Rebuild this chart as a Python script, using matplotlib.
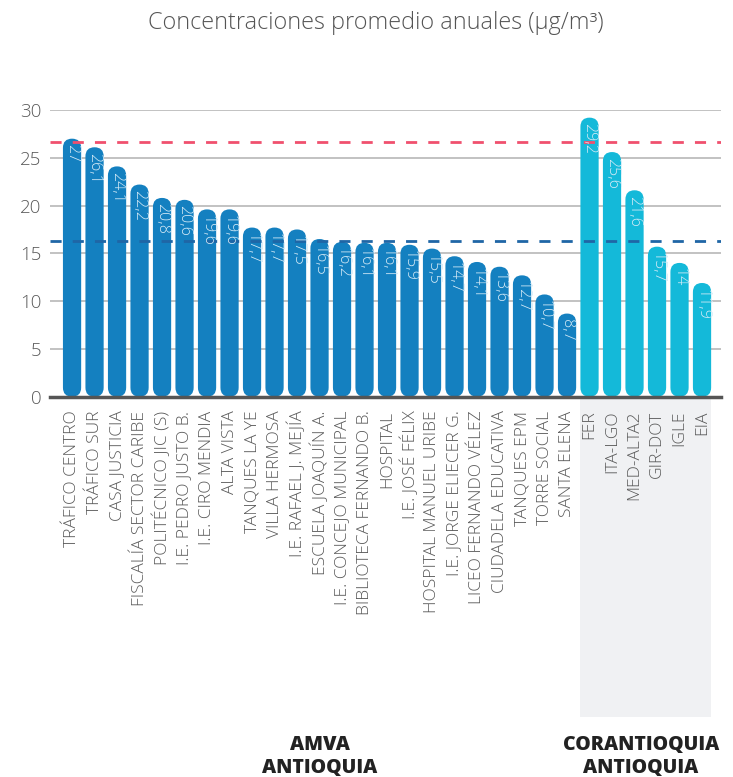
import matplotlib
matplotlib.use("Agg")
import matplotlib.pyplot as plt
from matplotlib.patches import FancyBboxPatch, Rectangle
from matplotlib import transforms
import numpy as np

# Estaciones AMVA
amva_stations = [
    "TRÁFICO CENTRO", "TRÁFICO SUR", "CASA JUSTICIA", "FISCALÍA SECTOR CARIBE",
    "POLITÉCNICO JIC (S)", "I.E. PEDRO JUSTO B.", "I.E. CIRO MENDIA", "ALTA VISTA",
    "TANQUES LA YE", "VILLA HERMOSA", "I.E. RAFAEL J. MEJÍA", "ESCUELA JOAQUÍN A.",
    "I.E. CONCEJO MUNICIPAL", "BIBLIOTECA FERNANDO B.", "HOSPITAL", "I.E. JOSÉ FÉLIX",
    "HOSPITAL MANUEL URIBE", "I.E. JORGE ELIECER G.", "LICEO FERNANDO VÉLEZ",
    "CIUDADELA EDUCATIVA", "TANQUES EPM", "TORRE SOCIAL", "SANTA ELENA",
]
amva_values = [27, 26.1, 24.1, 22.2, 20.8, 20.6, 19.6, 19.6, 17.7, 17.7, 17.5, 16.5,
               16.2, 16.1, 16.1, 15.9, 15.5, 14.7, 14.1, 13.6, 12.7, 10.7, 8.7]

# Estaciones Corantioquia
cor_stations = ["FER", "ITA-LGO", "MED-ALTA2", "GIR-DOT", "IGLE", "EIA"]
cor_values = [29.2, 25.6, 21.6, 15.7, 14, 11.9]

# Líneas de referencia
ref_red = 26.7
ref_blue = 16.3

yticks = [0, 5, 10, 15, 20, 25, 30]

FONT = "Open Sans"
AMVA_COLOR = "#1480c0"
COR_COLOR = "#14b9d9"

stations = amva_stations + cor_stations
values = amva_values + cor_values
colors = [AMVA_COLOR] * len(amva_values) + [COR_COLOR] * len(cor_values)
x = np.arange(len(values))

W, H = 733, 777
fig = plt.figure(figsize=(W / 100, H / 100), dpi=100)
ax = fig.add_axes([50 / W, 1 - 396.7 / H, (720.7 - 50) / W, (396.7 - 110) / H])
ax.set_xlim(-0.98, 28.83)
ax.set_ylim(0, 30)

# relación de aspecto para redondear las barras como círculos
px_x = ax.get_position().width * W / (28.83 + 0.98)
px_y = ax.get_position().height * H / 30
aspect = px_x / px_y

bar_w = 0.81
for xi, v, c in zip(x, values, colors):
    p = FancyBboxPatch((xi - bar_w / 2, 0), bar_w, v,
                       boxstyle=f"round,pad=0,rounding_size={bar_w / 2}",
                       mutation_aspect=aspect, facecolor=c, edgecolor="none",
                       zorder=2)
    ax.add_patch(p)
    label = f"{v:g}".replace(".", ",")
    ax.annotate(label, (xi, v), xytext=(0, -4), textcoords="offset points",
                rotation=270, ha="center", va="top", fontsize=11.5,
                family=FONT, fontweight=300, color="#d6ebf7", zorder=4)

ax.axhline(ref_red, color="#f0506e", lw=2, ls=(0, (4, 4)), zorder=3)
ax.axhline(ref_blue, color="#1f66a6", lw=2, ls=(0, (4, 4)), zorder=3)

ax.set_yticks(yticks)
ax.set_yticklabels([str(t) for t in yticks], family=FONT, fontsize=13.5,
                   fontweight=300, color="#5a5a5a")
ax.set_xticks(x)
ax.set_xticklabels(stations, rotation=90, family=FONT, fontsize=12.5,
                   fontweight=300, color="#5a5a5a")
ax.tick_params(axis="both", length=0)
ax.tick_params(axis="x", pad=10)
ax.tick_params(axis="y", pad=6)
ax.grid(axis="y", color="#bdbdbd", lw=1.3, zorder=0)
ax.set_axisbelow(True)
for side in ["top", "right", "left"]:
    ax.spines[side].set_visible(False)
ax.spines["bottom"].set_color("#555555")
ax.spines["bottom"].set_linewidth(2.5)
ax.spines["bottom"].set_zorder(5)

# fondo gris bajo las estaciones de Corantioquia
trans = transforms.blended_transform_factory(ax.transData, fig.transFigure)
x0 = len(amva_values) - bar_w / 2
x1 = len(values) - 1 + bar_w / 2
y_bot = 1 - 717 / H
y_top = 1 - 397 / H
bg = Rectangle((x0, y_bot), x1 - x0, y_top - y_bot, transform=trans,
               facecolor="#f0f1f3", edgecolor="none", clip_on=False, zorder=-1)
fig.patches.append(bg)

fig.text(376 / W, 1 - 23 / H, "Concentraciones promedio anuales (µg/m³)",
         ha="center", va="center", family=FONT, fontsize=16.8, fontweight=300,
         color="#555555")

for cx, lines in [(320, ["AMVA", "ANTIOQUIA"]), (641, ["CORANTIOQUIA", "ANTIOQUIA"])]:
    for ly, txt in zip([745, 768], lines):
        fig.text(cx / W, 1 - ly / H, txt, ha="center", va="center",
                 family=FONT, fontsize=14, fontweight=800, color="#222222")

fig.savefig("out.png", dpi=100)
